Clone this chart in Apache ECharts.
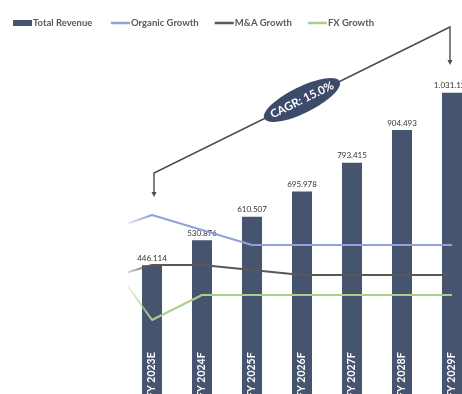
<!DOCTYPE html>
<html>
<head>
<meta charset="utf-8">
<script src="https://cdn.jsdelivr.net/npm/echarts@6/dist/echarts.min.js"></script>
<style>
  html, body { margin: 0; padding: 0; background: #ffffff; }
  #chart { width: 462px; height: 394px; }
</style>
</head>
<body>
<div id="chart"></div>
<script>
// Fiscal years (the first one only feeds the start of the growth lines)
const categories = ['FY 2022A', 'FY 2023E', 'FY 2024F', 'FY 2025F', 'FY 2026F', 'FY 2027F', 'FY 2028F', 'FY 2029F'];
// Total revenue (thousands)
const revenue = [null, 446114, 530876, 610507, 695978, 793415, 904493, 1031122];
// Growth contributions (%)
const organicGrowth = [12.5, 16, 13, 10, 10, 10, 10, 10];
const mnaGrowth = [3, 6, 6, 5, 4, 4, 4, 4];
const fxGrowth = [9, -5, 0, 0, 0, 0, 0, 0];

const FONT = 'Lato, "Open Sans", sans-serif';
const BAR_COLOR = '#46546f';
const COLORS = { organic: '#8ea3d6', mna: '#5b5757', fx: '#a8cf8c' };

function fmtThousands(v) {
  return String(v).replace(/\B(?=(\d{3})+(?!\d))/g, '.');
}

const chart = echarts.init(document.getElementById('chart'), null, { renderer: 'canvas' });

function lineSeries(name, data, color) {
  return {
    name: name,
    type: 'line',
    yAxisIndex: 1,
    data: data,
    symbol: 'none',
    lineStyle: { width: 2, color: color },
    itemStyle: { color: color },
    z: 3
  };
}

const legendText = { fontFamily: FONT, fontSize: 9.5, fontWeight: 'bold', color: '#595959', padding: [0, 0, 0, -4] };

const baseOption = {
  animation: false,
  backgroundColor: '#ffffff',
  textStyle: { fontFamily: FONT },
  legend: [
    {
      data: ['Total Revenue'],
      left: 8, top: 13,
      icon: 'rect', itemWidth: 19, itemHeight: 6,
      textStyle: legendText
    },
    {
      data: ['Organic Growth', 'M&A Growth', 'FX Growth'],
      left: 106, top: 13, itemGap: 16,
      icon: 'rect', itemWidth: 19, itemHeight: 2.5,
      textStyle: legendText
    }
  ],
  // plot area runs past the right and bottom edges of the canvas
  grid: { left: 77, width: 400, top: 47, height: 350, containLabel: false, outerBoundsMode: 'none' },
  xAxis: {
    type: 'category',
    data: categories,
    boundaryGap: true,
    axisLine: { show: false },
    axisTick: { show: false },
    axisLabel: {
      inside: true,
      rotate: 90,
      margin: -1,
      color: '#ffffff',
      fontFamily: FONT,
      fontSize: 10.5,
      fontWeight: 'bold',
      interval: 0,
      formatter: function (name, idx) { return revenue[idx] == null ? '' : name; }
    },
    z: 4
  },
  yAxis: [
    { type: 'value', min: 0, max: 1186000, show: false, splitLine: { show: false } },
    { type: 'value', min: -20.4, max: 49.6, show: false, splitLine: { show: false } }
  ],
  series: [
    {
      name: 'Total Revenue',
      type: 'bar',
      data: revenue,
      barWidth: 20,
      itemStyle: { color: BAR_COLOR },
      label: {
        show: true,
        position: 'top',
        distance: 3,
        fontFamily: FONT,
        fontSize: 8,
        color: '#333333',
        formatter: function (p) { return fmtThousands(p.value); }
      },
      z: 2
    },
    lineSeries('Organic Growth', organicGrowth, COLORS.organic),
    lineSeries('M&A Growth', mnaGrowth, COLORS.mna),
    lineSeries('FX Growth', fxGrowth, COLORS.fx)
  ]
};

chart.setOption(baseOption);

// Positions of the first and last forecast bars
const firstIdx = 1;
const lastIdx = categories.length - 1;
const xPrev = chart.convertToPixel({ xAxisIndex: 0 }, categories[0]);
const xFirst = chart.convertToPixel({ xAxisIndex: 0 }, categories[firstIdx]);
const xLast = chart.convertToPixel({ xAxisIndex: 0 }, categories[lastIdx]);
const W = chart.getWidth();

// Growth lines fade in from the left edge of the visible window
function fadeColor(hex) {
  const r = parseInt(hex.slice(1, 3), 16), g = parseInt(hex.slice(3, 5), 16), b = parseInt(hex.slice(5, 7), 16);
  const rgba = (a) => 'rgba(' + r + ',' + g + ',' + b + ',' + a + ')';
  const start = (xPrev + 26) / W;
  const full = (xFirst - 2) / W;
  return new echarts.graphic.LinearGradient(0, 0, W, 0, [
    { offset: 0, color: rgba(0) },
    { offset: start - 0.0005, color: rgba(0) },
    { offset: start, color: rgba(0.22) },
    { offset: full, color: rgba(1) },
    { offset: 1, color: rgba(1) }
  ], true);
}

// CAGR over the forecast horizon
const years = lastIdx - firstIdx;
const cagr = Math.pow(revenue[lastIdx] / revenue[firstIdx], 1 / years) - 1;
const cagrText = 'CAGR: ' + (cagr * 100).toFixed(1) + '%';

// Bracket connecting the first and last bars
const bx1 = xFirst + 2, bx2 = xLast - 2;
const yTip1 = 197, yCorner1 = 173, yCorner2 = 27, yTip2 = 65;
const midX = (bx1 + bx2) / 2, midY = (yCorner1 + yCorner2) / 2;
const angle = Math.atan2(yCorner1 - yCorner2, bx2 - bx1);
const LINE_COLOR = '#4a4a4a';

function arrowHead(x, y) {
  return {
    type: 'polygon',
    shape: { points: [[x - 2.5, y - 5], [x + 2.5, y - 5], [x, y]] },
    style: { fill: LINE_COLOR },
    z: 10
  };
}

chart.setOption({
  series: [
    {},
    { lineStyle: { color: fadeColor(COLORS.organic) } },
    { lineStyle: { color: fadeColor(COLORS.mna) } },
    { lineStyle: { color: fadeColor(COLORS.fx) } }
  ],
  graphic: [
    {
      type: 'polyline',
      shape: { points: [[bx1, yTip1 - 3], [bx1, yCorner1], [bx2, yCorner2], [bx2, yTip2 - 3]] },
      style: { stroke: LINE_COLOR, lineWidth: 1.4, fill: null },
      z: 10
    },
    arrowHead(bx1, yTip1),
    arrowHead(bx2, yTip2),
    {
      type: 'ellipse',
      x: midX, y: midY,
      rotation: angle,
      shape: { cx: 0, cy: 0, rx: 42, ry: 13 },
      style: { fill: '#3d4b6b' },
      z: 11
    },
    {
      type: 'text',
      x: midX, y: midY,
      rotation: angle,
      style: {
        text: cagrText,
        fill: '#ffffff',
        font: 'bold 11.5px ' + FONT,
        align: 'center', verticalAlign: 'middle',
        textAlign: 'center', textVerticalAlign: 'middle'
      },
      z: 12
    }
  ]
});
</script>
</body>
</html>
